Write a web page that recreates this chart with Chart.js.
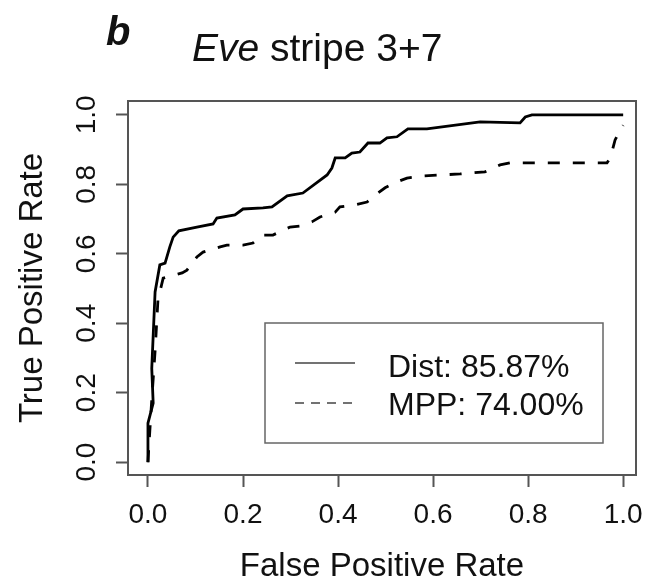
<!DOCTYPE html>
<html>
<head>
<meta charset="utf-8">
<script src="https://cdn.jsdelivr.net/npm/chart.js@4"></script>
<style>
  html, body { margin: 0; padding: 0; background: #fff; }
  #wrap { width: 646px; height: 584px; }
</style>
</head>
<body>
<div id="wrap"><canvas id="roc" width="646" height="584"></canvas></div>
<script>
// ROC curve points
const fprDist = [0, 0, 0.011, 0.008, 0.015, 0.025, 0.036, 0.046, 0.053, 0.065, 0.103, 0.137, 0.145, 0.183, 0.2, 0.242, 0.261, 0.293, 0.326, 0.377, 0.387, 0.394, 0.415, 0.429, 0.446, 0.463, 0.488, 0.503, 0.524, 0.547, 0.587, 0.699, 0.783, 0.794, 0.808, 1.0];
const tprDist = [0, 0.112, 0.17, 0.27, 0.49, 0.568, 0.573, 0.62, 0.648, 0.666, 0.677, 0.686, 0.703, 0.712, 0.729, 0.732, 0.735, 0.767, 0.775, 0.827, 0.847, 0.876, 0.876, 0.89, 0.893, 0.919, 0.919, 0.934, 0.937, 0.96, 0.96, 0.98, 0.977, 0.994, 1.0, 1.0];

const fprMpp = [0, 0.004, 0.008, 0.015, 0.021, 0.032, 0.072, 0.082, 0.103, 0.116, 0.152, 0.166, 0.2, 0.221, 0.24, 0.263, 0.299, 0.32, 0.345, 0.362, 0.394, 0.404, 0.436, 0.461, 0.484, 0.499, 0.524, 0.545, 0.577, 0.657, 0.709, 0.741, 0.762, 0.966, 0.973, 0.983, 0.994, 1.0];
const tprMpp = [0, 0.092, 0.18, 0.32, 0.467, 0.53, 0.545, 0.553, 0.591, 0.605, 0.62, 0.625, 0.625, 0.631, 0.654, 0.654, 0.677, 0.68, 0.692, 0.706, 0.72, 0.735, 0.741, 0.749, 0.775, 0.79, 0.807, 0.818, 0.824, 0.83, 0.836, 0.856, 0.862, 0.862, 0.876, 0.928, 0.957, 0.97];

const tickValues = [0, 0.2, 0.4, 0.6, 0.8, 1.0];
const legendLabels = ['Dist: 85.87%', 'MPP: 74.00%'];

const FONT = '"Liberation Sans", Arial, Helvetica, sans-serif';
const AXIS_COL = '#555';

function toPoints(xs, ys) {
    return xs.map((x, i) => ({ x: x, y: ys[i] }));
}

// box round the plot, panel letter, mixed-style title, legend box
const decorPlugin = {
    id: 'decor',
    afterDraw(chart) {
        const ctx = chart.ctx;
        const a = chart.chartArea;
        ctx.save();
        ctx.strokeStyle = AXIS_COL;
        ctx.lineWidth = 2;
        ctx.strokeRect(a.left, a.top, a.right - a.left, a.bottom - a.top);

        ctx.fillStyle = '#111';
        ctx.textBaseline = 'alphabetic';
        ctx.textAlign = 'left';
        ctx.font = 'italic bold 40px ' + FONT;
        ctx.fillText('b', 106, 45);

        let x = 192;
        ctx.font = 'italic 39px ' + FONT;
        ctx.fillText('Eve', x, 61);
        x += ctx.measureText('Eve ').width;
        ctx.font = '39px ' + FONT;
        ctx.fillText('stripe 3+7', x, 61);

        // legend
        ctx.strokeStyle = '#666';
        ctx.lineWidth = 1.5;
        ctx.strokeRect(265, 323, 338, 120);
        ctx.strokeStyle = '#444';
        ctx.lineWidth = 1.5;
        ctx.beginPath();
        ctx.moveTo(295, 363);
        ctx.lineTo(355, 363);
        ctx.stroke();
        ctx.setLineDash([9, 7]);
        ctx.beginPath();
        ctx.moveTo(295, 403);
        ctx.lineTo(355, 403);
        ctx.stroke();
        ctx.setLineDash([]);
        ctx.font = '32px ' + FONT;
        ctx.fillStyle = '#111';
        ctx.fillText(legendLabels[0], 388, 377);
        ctx.fillText(legendLabels[1], 388, 415);
        ctx.restore();
    }
};

const fixedTicks = scale => {
    scale.ticks = tickValues.map(v => ({ value: v }));
};

new Chart(document.getElementById('roc'), {
    type: 'line',
    data: {
        datasets: [
            {
                label: 'Dist',
                data: toPoints(fprDist, tprDist),
                borderColor: '#000',
                borderWidth: 2.8,
                pointRadius: 0,
                tension: 0,
                fill: false
            },
            {
                label: 'MPP',
                data: toPoints(fprMpp, tprMpp),
                borderColor: '#000',
                borderWidth: 2.8,
                borderDash: [12, 13],
                pointRadius: 0,
                tension: 0,
                fill: false
            }
        ]
    },
    options: {
        responsive: false,
        animation: false,
        layout: { padding: { left: 0, top: 101, right: 10, bottom: 0 } },
        plugins: {
            legend: { display: false },
            title: { display: false },
            tooltip: { enabled: false }
        },
        scales: {
            x: {
                type: 'linear',
                min: -0.042,
                max: 1.027,
                afterBuildTicks: fixedTicks,
                afterFit: s => {
                    s.height = 109;
                    s.paddingLeft = 0;
                    s.paddingRight = 0;
                },
                grid: { drawOnChartArea: false, tickLength: 12, tickColor: AXIS_COL, tickWidth: 2 },
                border: { display: false },
                ticks: {
                    padding: 11,
                    color: '#111',
                    font: { family: FONT, size: 28 },
                    maxRotation: 0,
                    autoSkip: false,
                    callback: v => v.toFixed(1)
                },
                title: {
                    display: true,
                    text: 'False Positive Rate',
                    color: '#111',
                    font: { family: FONT, size: 33 },
                    padding: { top: 0, bottom: -3 }
                }
            },
            y: {
                type: 'linear',
                min: -0.037,
                max: 1.04,
                afterBuildTicks: fixedTicks,
                afterFit: s => {
                    s.width = 128;
                    s.paddingTop = 0;
                    s.paddingBottom = 0;
                },
                grid: { drawOnChartArea: false, tickLength: 12, tickColor: AXIS_COL, tickWidth: 2 },
                border: { display: false },
                ticks: {
                    padding: 9,
                    color: '#111',
                    font: { family: FONT, size: 28 },
                    minRotation: 90,
                    maxRotation: 90,
                    crossAlign: 'center',
                    autoSkip: false,
                    callback: v => v.toFixed(1)
                },
                title: {
                    display: true,
                    text: 'True Positive Rate',
                    color: '#111',
                    font: { family: FONT, size: 33 },
                    padding: { top: 13, bottom: 0 }
                }
            }
        }
    },
    plugins: [decorPlugin]
});
</script>
</body>
</html>
